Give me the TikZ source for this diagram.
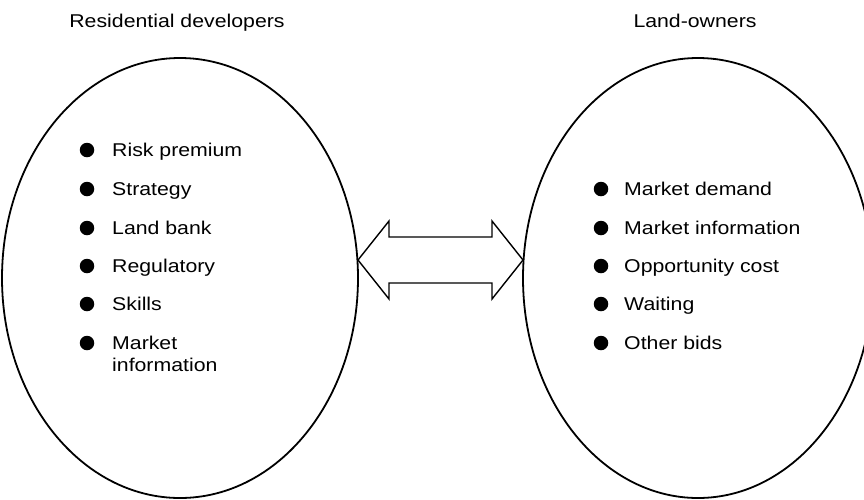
\documentclass[tikz,border=0pt]{standalone}
\usepackage{fontspec}
\setmainfont{Liberation Sans}[FakeStretch=1.15]
\begin{document}
\begin{tikzpicture}[x=1pt,y=-1pt,
  dot/.style={circle,fill=black,inner sep=0pt,minimum size=14.5pt},
  item/.style={anchor=base west,inner sep=0pt,font=\fontsize{18.5}{22}\selectfont},
  title/.style={anchor=base,inner sep=0pt,font=\fontsize{18.5}{22}\selectfont},
  oval/.style={line width=1.8pt},
  arr/.style={draw,line width=1.4pt,line join=miter}]
\useasboundingbox (0,0) rectangle (864,499);
\begin{scope}
\clip (0,0) rectangle (864,499);
\draw[oval] (180,278) ellipse [x radius=178, y radius=220];
\draw[oval] (698,278) ellipse [x radius=175, y radius=220];
\end{scope}
\node[title] (tl) at (177,27) {Residential developers};
\node[title] (tr) at (695,27) {Land-owners};
% left items
\foreach \n/\y/\t in {a/150/Risk premium, b/189/Strategy, c/228/Land bank, d/266/Regulatory, e/304/Skills}{
  \node[dot] (ld\n) at (87,\y) {};
  \node[item] (lt\n) at (112,\y+6.6) {\t};
}
\node[dot] (ldf) at (87,343) {};
\node[item] (ltf) at (112,349.6) {\vtop{\baselineskip=21.5pt\hbox{Market}\hbox{information}}};
% right items
\foreach \n/\y/\t in {a/189/Market demand, b/228/Market information, c/266/Opportunity cost, d/304/Waiting, e/343/Other bids}{
  \node[dot] (rd\n) at (601,\y) {};
  \node[item] (rt\n) at (624,\y+6.6) {\t};
}
% double arrow
\coordinate (tipL) at (358,260);
\coordinate (tipR) at (523,260);
\draw[arr] (tipL) -- (389,221) -- (389,237) -- (492,237) -- (492,221) -- (tipR)
  -- (492,299) -- (492,283) -- (389,283) -- (389,299) -- cycle;
\end{tikzpicture}
\end{document}
